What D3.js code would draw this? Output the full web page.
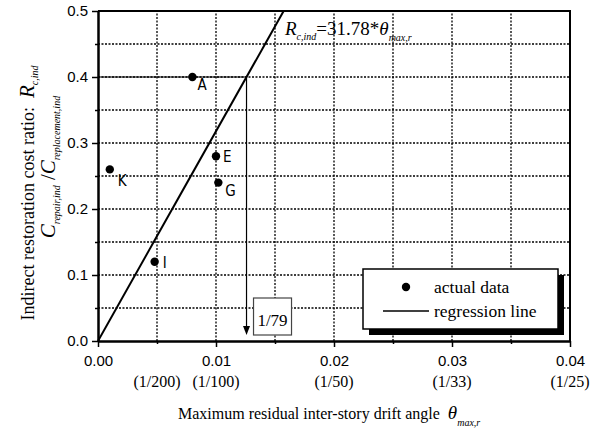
<!DOCTYPE html>
<html>
<head>
<meta charset="utf-8">
<script src="https://cdn.jsdelivr.net/npm/d3@7"></script>
<style>
  html, body { margin: 0; padding: 0; background: #fff; }
  svg { display: block; }
</style>
</head>
<body>
<div id="viz"></div>
<script>
// data
const pointNames = ["A", "E", "G", "K", "I"];
const driftAngles = [0.008, 0.010, 0.0102, 0.001, 0.0048];
const costRatios = [0.40, 0.28, 0.24, 0.26, 0.12];
const slope = 31.78;
const targetRatio = 0.4;
const targetLabel = "1/79";
const xMajorTicks = [0, 0.01, 0.02, 0.03, 0.04];
const xMinorTicks = [0.005, 0.015, 0.025, 0.035];
const yMajorTicks = [0, 0.1, 0.2, 0.3, 0.4, 0.5];
const yMinorTicks = [0.05, 0.15, 0.25, 0.35, 0.45];
const fractionTicks = [0.005, 0.01, 0.02, 0.03, 0.04];
const fractionLabels = ["(1/200)", "(1/100)", "(1/50)", "(1/33)", "(1/25)"];
const legendLabels = ["actual data", "regression line"];

// label placement next to each point (dx, dy)
const labelOffsets = { A: [5, 13], E: [7, 6], G: [7, 13], K: [8, 17], I: [8, 6] };

const W = 606, H = 437;
const serif = "'Liberation Serif', 'Times New Roman', serif";
const sans = "'Liberation Sans', Arial, sans-serif";
const narrow = "'Liberation Sans Narrow', 'DejaVu Sans Condensed', sans-serif";

const svg = d3.select("#viz").append("svg").attr("width", W).attr("height", H);

const x = d3.scaleLinear().domain([0, 0.04]).range([98, 570]);
const y = d3.scaleLinear().domain([0, 0.5]).range([341, 11]);

// dotted grid
const gridX = [...xMinorTicks, 0.01, 0.02, 0.03];
const gridY = [...yMinorTicks, 0.1, 0.2, 0.3, 0.4];
const grid = svg.append("g");
grid.selectAll("line.v").data(gridX).join("line").attr("class", "v")
  .attr("x1", (d) => x(d)).attr("x2", (d) => x(d))
  .attr("y1", y(0)).attr("y2", y(0.5))
  .style("stroke", "#000").style("stroke-width", "1.3px").style("stroke-dasharray", "2 1.5");
grid.selectAll("line.h").data(gridY).join("line").attr("class", "h")
  .attr("x1", x(0)).attr("x2", x(0.04))
  .attr("y1", (d) => y(d)).attr("y2", (d) => y(d))
  .style("stroke", "#000").style("stroke-width", "1.3px").style("stroke-dasharray", "2 1.5");

// frame top/right
svg.append("path")
  .attr("d", `M${x(0)},${y(0.5)}H${x(0.04)}V${y(0)}`)
  .attr("fill", "none").attr("stroke", "#000").attr("stroke-width", 2);

// axes
function styleAxis(g) {
  g.select(".domain").attr("stroke-width", 2);
  g.selectAll(".tick line").attr("stroke-width", 1.5);
  g.selectAll("text").attr("font-family", sans).attr("font-size", 15).attr("fill", "#000");
}

svg.append("g").attr("transform", `translate(0,${y(0)})`)
  .call(d3.axisBottom(x).tickValues(xMinorTicks).tickSize(3).tickSizeOuter(0).tickFormat(""))
  .call(styleAxis);
svg.append("g").attr("transform", `translate(0,${y(0)})`)
  .call(d3.axisBottom(x).tickValues(xMajorTicks).tickSize(6).tickSizeOuter(0).tickPadding(8).tickFormat(d3.format(".2f")))
  .call(styleAxis);
svg.append("g").attr("transform", `translate(${x(0)},0)`)
  .call(d3.axisLeft(y).tickValues(yMinorTicks).tickSize(3).tickSizeOuter(0).tickFormat(""))
  .call(styleAxis);
svg.append("g").attr("transform", `translate(${x(0)},0)`)
  .call(d3.axisLeft(y).tickValues(yMajorTicks).tickSize(6).tickSizeOuter(0).tickPadding(4).tickFormat(d3.format(".1f")))
  .call(styleAxis);

// fraction labels under x ticks
svg.append("g").selectAll("text").data(fractionTicks).join("text")
  .attr("x", (d) => x(d)).attr("y", 387)
  .attr("text-anchor", "middle")
  .attr("font-family", serif).attr("font-size", 16)
  .text((d, i) => fractionLabels[i]);

// regression line
const xTop = 0.5 / slope;
svg.append("path")
  .datum([0, xTop])
  .attr("d", d3.line().x((d) => x(d)).y((d) => y(slope * d)))
  .attr("fill", "none").attr("stroke", "#000").attr("stroke-width", 2);

// 0.4 -> 1/79 guide
const xTarget = targetRatio / slope;
svg.append("line")
  .attr("x1", x(0)).attr("x2", x(xTarget)).attr("y1", y(targetRatio)).attr("y2", y(targetRatio))
  .attr("stroke", "#000").attr("stroke-width", 1.2);
const tipY = y(0) - 6;
svg.append("line")
  .attr("x1", x(xTarget)).attr("x2", x(xTarget)).attr("y1", y(targetRatio)).attr("y2", tipY - 6)
  .attr("stroke", "#000").attr("stroke-width", 1.2);
svg.append("path")
  .attr("d", `M${x(xTarget) - 3.5},${tipY - 9}L${x(xTarget) + 3.5},${tipY - 9}L${x(xTarget)},${tipY}Z`)
  .attr("fill", "#000");

const bx = x(xTarget) + 7;
svg.append("rect").attr("x", bx).attr("y", 298).attr("width", 38).attr("height", 37)
  .attr("fill", "#fff").attr("stroke", "#444").attr("stroke-width", 1.2);
svg.append("text").attr("x", bx + 19).attr("y", 326).attr("text-anchor", "middle")
  .attr("font-family", serif).attr("font-size", 17).text(targetLabel);

// points
const pts = pointNames.map((n, i) => ({ name: n, x: driftAngles[i], y: costRatios[i] }));
svg.append("g").selectAll("circle").data(pts).join("circle")
  .attr("cx", (d) => x(d.x)).attr("cy", (d) => y(d.y)).attr("r", 4.2).attr("fill", "#000");
svg.append("g").selectAll("text").data(pts).join("text")
  .attr("x", (d) => x(d.x) + labelOffsets[d.name][0])
  .attr("y", (d) => y(d.y) + labelOffsets[d.name][1])
  .attr("font-family", narrow).attr("font-size", 15)
  .text((d) => d.name);

// regression equation
const eq = svg.append("text").attr("x", 285).attr("y", 35)
  .attr("font-family", serif).attr("font-size", 19);
eq.append("tspan").attr("font-style", "italic").text("R");
eq.append("tspan").attr("font-style", "italic").attr("font-size", 10).attr("dy", 5).text("c,ind");
eq.append("tspan").attr("dy", -5).text("=31.78*");
eq.append("tspan").attr("font-style", "italic").text("θ");
eq.append("tspan").attr("font-style", "italic").attr("font-size", 10).attr("dy", 6).text("max,r");

// legend
const lg = svg.append("g").attr("transform", "translate(363,269)");
lg.append("rect").attr("x", 6).attr("y", 6).attr("width", 195).attr("height", 60).attr("fill", "#000");
lg.append("rect").attr("width", 195).attr("height", 60)
  .attr("fill", "#fff").attr("stroke", "#000").attr("stroke-width", 1.5);
lg.append("circle").attr("cx", 43).attr("cy", 18).attr("r", 4.2).attr("fill", "#000");
lg.append("line").attr("x1", 20).attr("x2", 66).attr("y1", 42).attr("y2", 42)
  .attr("stroke", "#000").attr("stroke-width", 1.5);
lg.selectAll("text.lab").data(legendLabels).join("text").attr("class", "lab")
  .attr("x", 71).attr("y", (d, i) => 24 + i * 24)
  .attr("font-family", serif).attr("font-size", 17.5)
  .text((d) => d);

// x title
const xt = svg.append("text").attr("x", 178).attr("y", 419)
  .attr("font-family", serif).attr("font-size", 16);
xt.append("tspan").text("Maximum residual inter-story drift angle\u00a0\u00a0");
xt.append("tspan").attr("font-style", "italic").attr("font-size", 19).text("θ");
xt.append("tspan").attr("font-style", "italic").attr("font-size", 10).attr("dy", 7).text("max,r");

// y title, two lines
const yt1 = svg.append("text").attr("transform", "translate(34,193) rotate(-90)")
  .attr("text-anchor", "middle").attr("font-family", serif).attr("font-size", 18);
yt1.append("tspan").text("Indirect restoration cost ratio:\u00a0\u00a0");
yt1.append("tspan").attr("font-style", "italic").attr("font-size", 21).text("R");
yt1.append("tspan").attr("font-style", "italic").attr("font-size", 10).attr("dy", 4).text("c,ind");

const yt2 = svg.append("text").attr("transform", "translate(55,167) rotate(-90)")
  .attr("text-anchor", "middle").attr("font-family", serif).attr("font-size", 21);
yt2.append("tspan").attr("font-style", "italic").text("C");
yt2.append("tspan").attr("font-style", "italic").attr("font-size", 10).attr("dy", 5).text("repair,ind");
yt2.append("tspan").attr("dy", -5).text("\u00a0/");
yt2.append("tspan").attr("font-style", "italic").text("C");
yt2.append("tspan").attr("font-style", "italic").attr("font-size", 10).attr("dy", 5).text("replacement,ind");
</script>
</body>
</html>
